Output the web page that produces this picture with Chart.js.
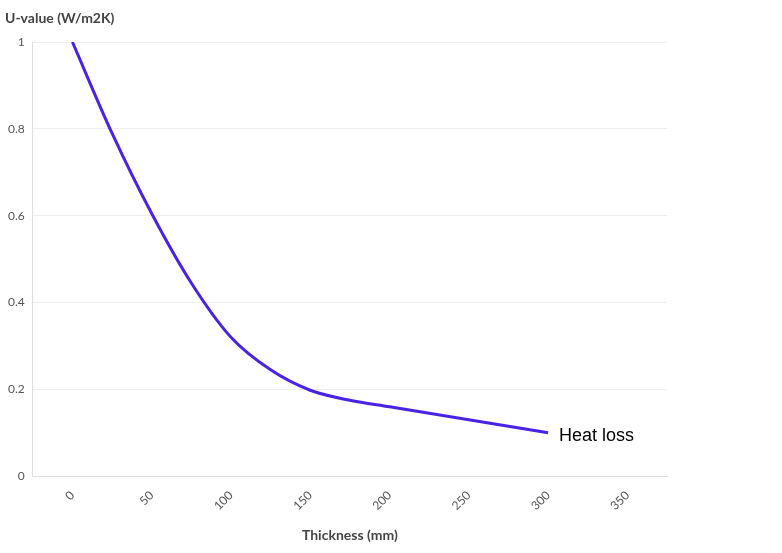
<!DOCTYPE html>
<html><head><meta charset="utf-8">
<script src="https://cdn.jsdelivr.net/npm/chart.js@4"></script>
<style>html,body{margin:0;padding:0;background:#fff}#wrap{width:782px;height:553px}</style>
</head><body><div id="wrap"><canvas id="c"></canvas></div>
<script>
const thickness = [0, 25, 50, 75, 100, 125, 150, 175, 200, 225, 250, 275, 300];
const uValues   = [1, 0.79, 0.605, 0.445, 0.32, 0.245, 0.198, 0.175, 0.16, 0.145, 0.13, 0.115, 0.1];
const xTicks = [0, 50, 100, 150, 200, 250, 300, 350];
const seriesName = 'Heat loss';
const xTitle = 'Thickness (mm)';
const yTitle = 'U-value (W/m2K)';

const labelPlugin = {
  id: 'labels',
  afterDraw(chart) {
    const ctx = chart.ctx;
    const meta = chart.getDatasetMeta(0);
    const last = meta.data[meta.data.length - 1];
    ctx.save();
    ctx.fillStyle = '#000';
    ctx.font = '18px "Liberation Sans", Arial, sans-serif';
    ctx.textBaseline = 'middle';
    ctx.fillText(seriesName, last.x + 11, last.y + 3);
    ctx.fillStyle = '#444';
    ctx.font = 'bold 14px Lato, sans-serif';
    ctx.textBaseline = 'alphabetic';
    ctx.fillText(yTitle, 5, 23);
    ctx.restore();
  }
};

new Chart(document.getElementById('c'), {
  type: 'line',
  data: { datasets: [{ data: thickness.map((x, i) => ({ x, y: uValues[i] })), borderColor: '#4a22e6', borderWidth: 3, pointRadius: 0, tension: 0.4, cubicInterpolationMode: 'monotone' }] },
  options: {
    responsive: true, maintainAspectRatio: false, animation: false,
    layout: { padding: { top: 42, right: 115, left: 0, bottom: 5 } },
    plugins: { legend: { display: false }, tooltip: { enabled: false } },
    scales: {
      x: { type: 'linear', min: -25, max: 375,
        afterBuildTicks: s => { s.ticks = xTicks.map(v => ({ value: v })); },
        ticks: { maxRotation: 45, minRotation: 45, color: '#555', font: { family: 'Lato', size: 12 }, padding: 4 },
        grid: { display: false },
        border: { color: '#ddd' },
        title: { display: true, text: xTitle, color: '#444', font: { family: 'Lato', size: 14, weight: 'bold' }, padding: { top: 10 } } },
      y: { min: 0, max: 1,
        ticks: { stepSize: 0.2, color: '#555', font: { family: 'Lato', size: 12 }, padding: 8, callback: v => String(+v.toFixed(1)) },
        grid: { color: '#eee', drawTicks: false },
        border: { color: '#ddd' } }
    }
  },
  plugins: [labelPlugin]
});
</script></body></html>
